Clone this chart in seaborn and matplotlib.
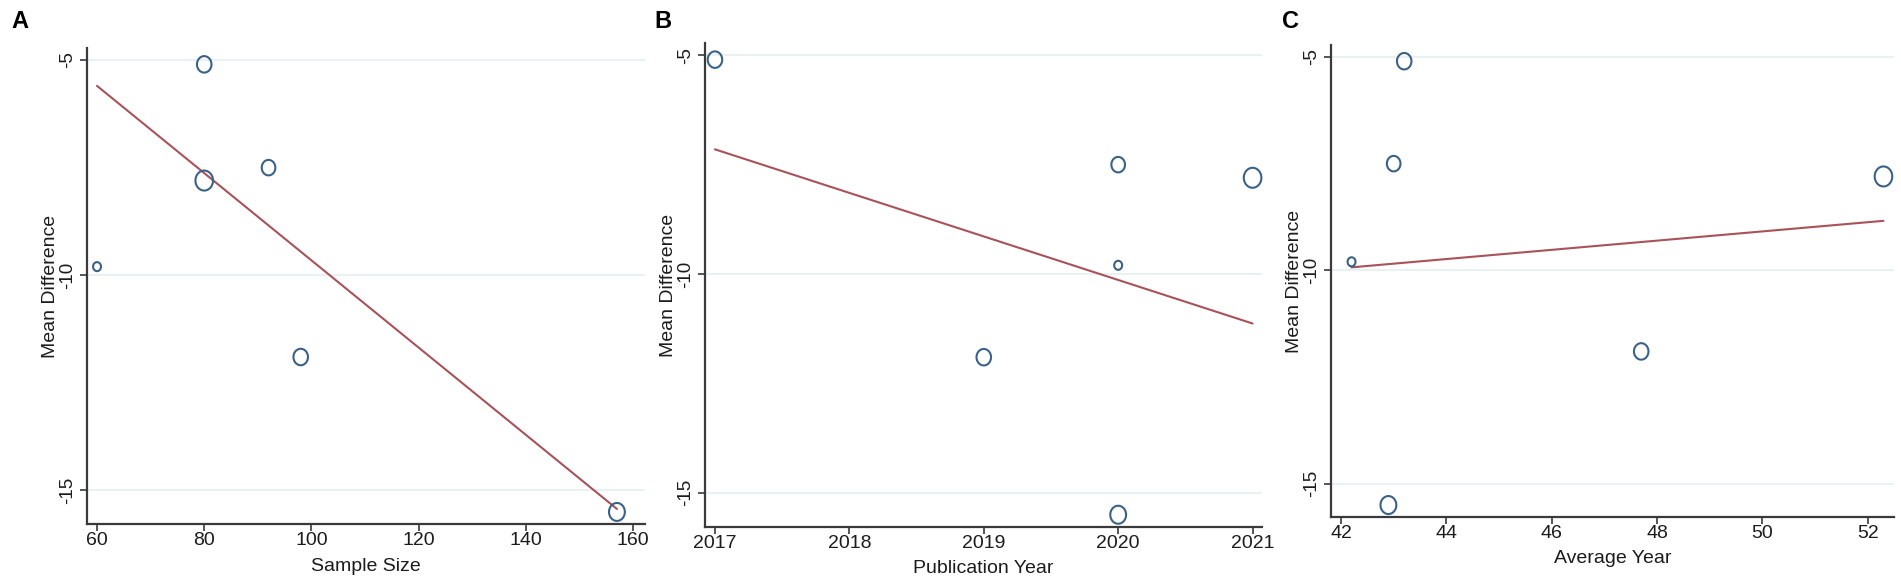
import numpy as np
import pandas as pd
import matplotlib.pyplot as plt
import seaborn as sns
from matplotlib.path import Path

# study level values
sample_size = [80, 80, 92, 60, 98, 157]
pub_year = [2017, 2021, 2020, 2020, 2019, 2020]
average_year = [43.2, 52.3, 43.0, 42.2, 47.7, 42.9]
mean_diff = [-5.1, -7.8, -7.5, -9.8, -11.9, -15.5]
weight = [272, 400, 240, 81, 272, 324]

# fitted meta-regression lines (value at each end of the x range)
fit_a_x = [60, 157]
fit_a_y = [-5.60, -15.43]
fit_b_x = [2017, 2021]
fit_b_y = [-7.15, -11.13]
fit_c_x = [42.2, 52.3]
fit_c_y = [-9.93, -8.84]

x_ticks_a = [60, 80, 100, 120, 140, 160]
x_ticks_b = [2017, 2018, 2019, 2020, 2021]
x_ticks_c = [42, 44, 46, 48, 50, 52]
y_ticks = [-5, -10, -15]
y_tick_labels = ["-5", "-10", "-15"]

df = pd.DataFrame({
    "Sample Size": sample_size,
    "Publication Year": pub_year,
    "Average Year": average_year,
    "Mean Difference": mean_diff,
    "weight": weight,
})

sns.set_theme(style="white")
plt.rcParams["font.family"] = ["Liberation Sans", "DejaVu Sans"]
plt.rcParams["axes.unicode_minus"] = False

NAVY = "#3a6287"
MAROON = "#a8525a"
GRID = "#e9f1f3"
AXIS = "#3a3a3a"
TEXT = "#1c1c1c"

# slightly tall ellipse, the exported Stata graph is squeezed sideways
theta = np.linspace(0, 2 * np.pi, 61)
ellipse = Path(np.column_stack([0.88 * np.cos(theta), np.sin(theta)]), closed=True)

panels = [
    dict(x="Sample Size", ticks=x_ticks_a, xlim=(58.13, 162.24),
         fx=fit_a_x, fy=fit_a_y, rect=[0.04577, 0.10427, 0.29353, 0.81368],
         letter="A", lx=20, h=476),
    dict(x="Publication Year", ticks=x_ticks_b, xlim=(2016.926, 2021.07),
         fx=fit_b_x, fy=fit_b_y, rect=[0.37086, 0.09915, 0.29300, 0.82735],
         letter="B", lx=663, h=484),
    dict(x="Average Year", ticks=x_ticks_c, xlim=(41.81, 52.50),
         fx=fit_c_x, fy=fit_c_y, rect=[0.70016, 0.11624, 0.29616, 0.80684],
         letter="C", lx=1290, h=472),
]

fig = plt.figure(figsize=(19.01, 5.85), dpi=100)

for p in panels:
    ax = fig.add_axes(p["rect"])
    w_px = p["rect"][2] * 1901

    sns.lineplot(x=p["fx"], y=p["fy"], ax=ax, color=MAROON, linewidth=1.5, zorder=3)
    sns.scatterplot(data=df, x=p["x"], y="Mean Difference", size="weight",
                    sizes=(42, 207), legend=False, ax=ax, marker=ellipse,
                    color=NAVY, facecolor="none", edgecolor=NAVY,
                    linewidth=1.5, zorder=4, clip_on=False)

    ax.set_xlim(p["xlim"])
    ax.set_ylim(-15.78, -4.72)
    ax.set_xticks(p["ticks"])
    ax.set_xticklabels([str(t) for t in p["ticks"]], fontsize=14, color=TEXT)
    ax.set_yticks(y_ticks)
    ax.set_yticklabels(y_tick_labels, fontsize=13.5, color=TEXT,
                       rotation=90, va="center")

    ax.set_axisbelow(True)
    ax.yaxis.grid(True, color=GRID, linewidth=1.5)
    ax.xaxis.grid(False)
    sns.despine(ax=ax)
    for side in ["left", "bottom"]:
        ax.spines[side].set_color(AXIS)
        ax.spines[side].set_linewidth(1.6)
    ax.tick_params(axis="both", direction="out", length=5, width=1.2,
                   color=AXIS, left=True, bottom=True)
    ax.tick_params(axis="x", pad=0.5)
    ax.tick_params(axis="y", pad=2.7)

    ax.set_xlabel(p["x"], fontsize=14, color=TEXT, va="center")
    ax.xaxis.set_label_coords(0.5, -42 / p["h"])
    ax.set_ylabel("Mean Difference", fontsize=14, color=TEXT, va="center")
    ax.yaxis.set_label_coords(-37 / w_px, 0.5)

    fig.text(p["lx"] / 1901, 1 - 21 / 585, p["letter"], fontsize=17,
             fontweight="bold", color="black", ha="center", va="center")

fig.savefig("out.png", dpi=100)
plt.close(fig)
